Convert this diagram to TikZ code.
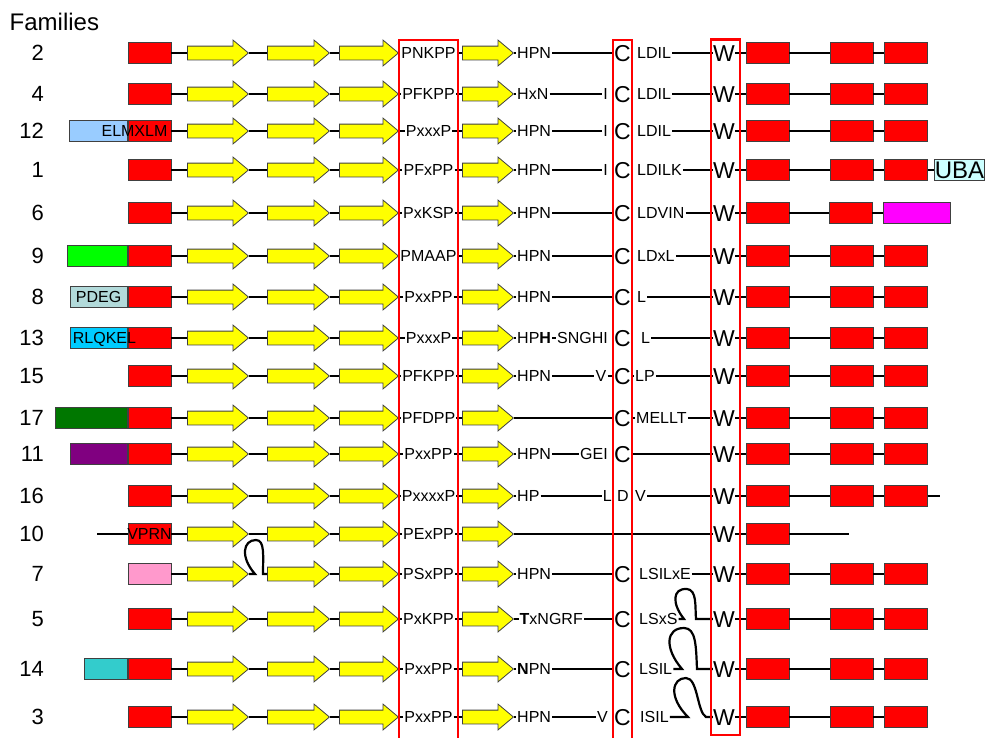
\documentclass[tikz,border=0pt]{standalone}
\usepackage{fontspec}
\setmainfont{Liberation Sans}
\usetikzlibrary{shapes.arrows, positioning}
\definecolor{boxRed}{RGB}{255, 0, 0}
\definecolor{strandYellow}{RGB}{255, 255, 0}
\definecolor{elmBlue}{RGB}{153, 204, 255}
\definecolor{pdegGrey}{RGB}{178, 218, 218}
\definecolor{rlqBlue}{RGB}{0, 204, 255}
\definecolor{limeBox}{RGB}{0, 255, 0}
\definecolor{darkGreenBox}{RGB}{0, 119, 0}
\definecolor{purpleBox}{RGB}{128, 0, 128}
\definecolor{tealBox}{RGB}{51, 204, 204}
\definecolor{pinkBox}{RGB}{255, 153, 204}
\definecolor{magentaBox}{RGB}{255, 0, 255}
\definecolor{ubaCyan}{RGB}{204, 255, 255}

\begin{document}
\begin{tikzpicture}[x=1pt, y=-1pt,
  famnum/.style={font=\fontsize{22}{26}\selectfont, anchor=east,
                 inner sep=0pt, text height=15.8pt, text depth=0pt},
  lbl/.style={font=\fontsize{16}{19}\selectfont, inner sep=1pt,
              text height=11.5pt, text depth=0pt},
  big/.style={font=\fontsize{23}{27}\selectfont, inner sep=0pt,
              text height=16.5pt, text depth=0pt},
  dombox/.style={draw=black!75, line width=0.8pt, minimum width=43pt,
                 minimum height=20.6pt, inner sep=0pt,
                 font=\fontsize{16}{19}\selectfont},
  strand/.style={single arrow, draw=black!75, fill=strandYellow, line width=0.8pt,
                 inner xsep=0pt, inner ysep=6.5pt, single arrow head extend=6pt,
                 single arrow tip angle=80, anchor=tail, minimum height=#1},
  link/.style={line width=2.2pt},
  frame/.style={draw=boxRed, line width=2.8pt}
]
  \useasboundingbox (0,0) rectangle (985,737);
  \node[font=\fontsize{24}{28}\selectfont, anchor=west, inner sep=0pt,
        text height=17.2pt, text depth=0pt] (famhead) at (9.5,21.5) {Families};

  % Common skeleton of every family
  \foreach \f/\y/\mot/\ncol in {2/53/PNKPP/boxRed, 4/94/PFKPP/boxRed, 12/131/PxxxP/boxRed,
      1/170/PFxPP/boxRed, 6/213/PxKSP/boxRed, 9/256/PMAAP/boxRed, 8/297/PxxPP/boxRed,
      13/338/PxxxP/boxRed, 15/376/PFKPP/boxRed, 17/418/PFDPP/boxRed, 11/454/PxxPP/boxRed,
      16/496/PxxxxP/boxRed, 10/534/PExPP/boxRed, 7/574/PSxPP/pinkBox, 5/619/PxKPP/boxRed,
      14/669/PxxPP/boxRed, 3/717/PxxPP/boxRed}{
    \node[famnum] (fam\f) at (44,\y) {\f};
    \node[dombox, fill=\ncol] (nt\f) at (149.5,\y) {};
    \node[strand=61pt] (s\f-1) at (187,\y) {};
    \node[strand=62pt] (s\f-2) at (267,\y) {};
    \node[strand=59pt] (s\f-3) at (339,\y) {};
    \node[lbl] (mot\f) at (428.5,\y) {\mot};
    \node[strand=51pt] (s\f-4) at (462,\y) {};
    \node[big] (trp\f) at (724,\y) {W};
    \node[dombox, fill=boxRed] (ct\f-1) at (767.5,\y) {};
    \draw[link] (nt\f) -- (s\f-1.tail);
    \ifnum\f=7 \else \draw[link] (s\f-1.tip) -- (s\f-2.tail); \fi
    \draw[link] (s\f-2.tip) -- (s\f-3.tail) (s\f-3.tip) -- (mot\f)
      (mot\f) -- (s\f-4.tail) (trp\f) -- (ct\f-1);
  }
  \foreach \f/\y in {2/53, 4/94, 12/131, 1/170, 9/256, 8/297, 13/338, 15/376,
      17/418, 11/454, 16/496, 7/574, 5/619, 14/669, 3/717}{
    \node[dombox, fill=boxRed] (ct\f-2) at (851.5,\y) {};
    \node[dombox, fill=boxRed] (ct\f-3) at (906,\y) {};
    \draw[link] (ct\f-1) -- (ct\f-2) -- (ct\f-3);
  }

  % N-terminal extensions
  \node[dombox, fill=elmBlue, minimum width=57.7pt, anchor=east] (ext12) at (nt12.west) {};
  \node[lbl] (elm12) at (134.5,131) {ELMXLM};
  \node[dombox, fill=limeBox, minimum width=59.7pt, anchor=east] (ext9) at (nt9.west) {};
  \node[dombox, fill=pdegGrey, minimum width=57.3pt, anchor=east] (ext8) at (nt8.west) {PDEG};
  \node[dombox, fill=rlqBlue, minimum width=57pt, anchor=east] (ext13) at (nt13.west) {};
  \node[lbl] (rlq13) at (104.5,338) {RLQKEL};
  \node[dombox, fill=darkGreenBox, minimum width=72pt, anchor=east] (ext17) at (nt17.west) {};
  \node[dombox, fill=purpleBox, minimum width=57pt, anchor=east] (ext11) at (nt11.west) {};
  \node[dombox, fill=tealBox, minimum width=42.7pt, anchor=east] (ext14) at (nt14.west) {};
  \node[lbl] (vprn10) at (nt10) {VPRN};
  \coordinate (start10) at (97,534);
  \draw[link] (start10) -- (nt10);
  \draw[link] (s7-1.tip) -- (255,574) .. controls (240,557) and (243,540) .. (256,540)
    .. controls (265,540) and (263,556) .. (263,574) -- (s7-2.tail);

  % Family 2
  \node[lbl, anchor=west] (hpn2) at (516,53) {HPN};
  \node[big] (cys2) at (622.5,53) {C};
  \node[lbl, anchor=west] (aft2) at (636,53) {LDIL};
  \draw[link] (s2-4.tip) -- (hpn2) -- (cys2) (aft2) -- (trp2);
  % Family 4
  \node[lbl, anchor=west] (hpn4) at (516,94) {HxN};
  \node[lbl, anchor=east] (pre4) at (609,94) {I};
  \node[big] (cys4) at (622.5,94) {C};
  \node[lbl, anchor=west] (aft4) at (636,94) {LDIL};
  \draw[link] (s4-4.tip) -- (hpn4) -- (pre4) (aft4) -- (trp4);
  % Family 12
  \node[lbl, anchor=west] (hpn12) at (516,131) {HPN};
  \node[lbl, anchor=east] (pre12) at (609,131) {I};
  \node[big] (cys12) at (622.5,131) {C};
  \node[lbl, anchor=west] (aft12) at (636,131) {LDIL};
  \draw[link] (s12-4.tip) -- (hpn12) -- (pre12) (aft12) -- (trp12);
  % Family 1
  \node[lbl, anchor=west] (hpn1) at (516,170) {HPN};
  \node[lbl, anchor=east] (pre1) at (609,170) {I};
  \node[big] (cys1) at (622.5,170) {C};
  \node[lbl, anchor=west] (aft1) at (636,170) {LDILK};
  \node[dombox, fill=ubaCyan, font=\fontsize{24}{28}\selectfont, text height=17pt,
        minimum width=0pt, inner xsep=0.5pt, anchor=west] (uba1) at (934,170) {UBA};
  \draw[link] (s1-4.tip) -- (hpn1) -- (pre1) (aft1) -- (trp1) (ct1-3) -- (uba1);
  % Family 6
  \node[lbl, anchor=west] (hpn6) at (516,213) {HPN};
  \node[big] (cys6) at (622.5,213) {C};
  \node[lbl, anchor=west] (aft6) at (636,213) {LDVIN};
  \node[dombox, fill=boxRed] (ct6-2) at (850.5,213) {};
  \node[dombox, fill=magentaBox, minimum width=67pt, anchor=west] (mag6) at (883,213) {};
  \draw[link] (s6-4.tip) -- (hpn6) -- (cys6) (aft6) -- (trp6) (ct6-1) -- (ct6-2) -- (mag6);
  % Family 9
  \node[lbl, anchor=west] (hpn9) at (516,256) {HPN};
  \node[big] (cys9) at (622.5,256) {C};
  \node[lbl, anchor=west] (aft9) at (636,256) {LDxL};
  \draw[link] (s9-4.tip) -- (hpn9) -- (cys9) (aft9) -- (trp9);
  % Family 8
  \node[lbl, anchor=west] (hpn8) at (516,297) {HPN};
  \node[big] (cys8) at (622.5,297) {C};
  \node[lbl, anchor=west] (aft8) at (636,297) {L};
  \draw[link] (s8-4.tip) -- (hpn8) -- (cys8) (aft8) -- (trp8);
  % Family 13
  \node[lbl, anchor=west] (hpn13) at (516,338) {HP\textbf{H}};
  \node[lbl, anchor=east] (pre13) at (609,338) {SNGHI};
  \node[big] (cys13) at (622.5,338) {C};
  \node[lbl, anchor=west] (aft13) at (640,338) {L};
  \draw[link] (s13-4.tip) -- (hpn13) -- (pre13) (aft13) -- (trp13);
  % Family 15
  \node[lbl, anchor=west] (hpn15) at (516,376) {HPN};
  \node[lbl, anchor=east] (pre15) at (607.5,376) {V};
  \node[big] (cys15) at (622.5,376) {C};
  \node[lbl, anchor=west] (aft15) at (634,376) {LP};
  \draw[link] (s15-4.tip) -- (hpn15) -- (pre15) -- (cys15) -- (aft15) -- (trp15);
  % Family 17
  \node[big] (cys17) at (622.5,418) {C};
  \node[lbl, anchor=west] (aft17) at (635,418) {MELLT};
  \draw[link] (s17-4.tip) -- (cys17) -- (aft17) -- (trp17);
  % Family 11
  \node[lbl, anchor=west] (hpn11) at (516,454) {HPN};
  \node[lbl, anchor=east] (pre11) at (609,454) {GEI};
  \node[big] (cys11) at (622.5,454) {C};
  \draw[link] (s11-4.tip) -- (hpn11) -- (pre11) (cys11) -- (trp11);
  % Family 16
  \node[lbl, anchor=west] (hpn16) at (516,496) {HP};
  \node[lbl, anchor=east] (pre16) at (613,496) {L};
  \node[lbl] (mid16) at (623,496) {D};
  \node[lbl, anchor=west] (aft16) at (634,496) {V};
  \coordinate (end16) at (940,496);
  \draw[link] (s16-4.tip) -- (hpn16) -- (pre16) (aft16) -- (trp16) (ct16-3) -- (end16);
  % Family 10
  \coordinate (end10) at (849,534);
  \draw[link] (s10-4.tip) -- (trp10) (ct10-1) -- (end10);
  % Family 7
  \node[lbl, anchor=west] (hpn7) at (516,574) {HPN};
  \node[big] (cys7) at (622.5,574) {C};
  \node[lbl, anchor=west] (aft7) at (638,574) {LSILxE};
  \draw[link] (s7-4.tip) -- (hpn7) -- (cys7) (aft7) -- (trp7);
  % Family 5
  \node[lbl, anchor=west] (hpn5) at (518.5,619) {\textbf{T}xNGRF};
  \node[big] (cys5) at (622.5,619) {C};
  \node[lbl, anchor=west] (aft5) at (638,619) {LSxS};
  \draw[link] (s5-4.tip) -- (hpn5) -- (cys5);
  \draw[link] (aft5) -- (684,619) .. controls (672,604) and (672,588) .. (687,589)
    .. controls (697,590) and (695,606) .. (696,619) -- (trp5);
  % Family 14
  \node[lbl, anchor=west] (hpn14) at (516,669) {\textbf{N}PN};
  \node[big] (cys14) at (622.5,669) {C};
  \node[lbl, anchor=west] (aft14) at (638,669) {LSIL};
  \draw[link] (s14-4.tip) -- (hpn14) -- (cys14);
  \draw[link] (aft14) -- (682,669) .. controls (664,648) and (666,628) .. (684,628)
    .. controls (696,628) and (696,646) .. (697,669) -- (trp14);
  % Family 3
  \node[lbl, anchor=west] (hpn3) at (516,717) {HPN};
  \node[lbl, anchor=east] (pre3) at (609,717) {V};
  \node[big] (cys3) at (622.5,717) {C};
  \node[lbl, anchor=west] (aft3) at (639,717) {ISIL};
  \draw[link] (s3-4.tip) -- (hpn3) -- (pre3);
  \draw[link] (aft3) -- (688,717) .. controls (668,697) and (672,678) .. (686,678)
    .. controls (698,678) and (697,712) .. (706,717) -- (trp3);

  % Conserved columns
  \draw[frame] (399,40) rectangle (458,745);
  \draw[frame] (613,40) rectangle (632,745);
  \draw[frame] (711,39.5) rectangle (740,735);
\end{tikzpicture}
\end{document}
